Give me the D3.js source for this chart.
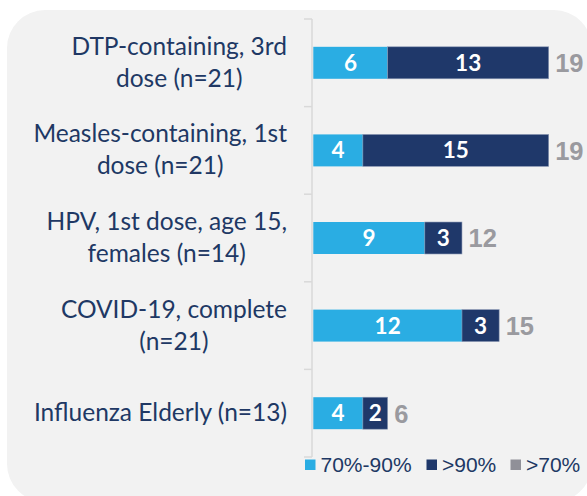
<!DOCTYPE html>
<html><head><meta charset="utf-8">
<script src="https://cdn.jsdelivr.net/npm/d3@7"></script>
<style>html,body{margin:0;padding:0;background:#fff;}svg{display:block;}</style>
</head><body>
<svg id="chart" width="587" height="496"></svg>
<script>
const categories = [
  "DTP-containing, 3rd\ndose (n=21)",
  "Measles-containing, 1st\ndose (n=21)",
  "HPV, 1st dose, age 15,\nfemales (n=14)",
  "COVID-19, complete\n(n=21)",
  "Influenza Elderly (n=13)"
];
const values70to90 = [6, 4, 9, 12, 4];
const valuesAbove90 = [13, 15, 3, 3, 2];
const totalsAbove70 = [19, 19, 12, 15, 6];
const legendLabels = ["70%-90%", ">90%", ">70%"];

const colLight = "#2aade3", colDark = "#1f386a", colGray = "#9a9a9f", colText = "#203864";
const svg = d3.select("#chart");

svg.append("rect").attr("x", 7).attr("y", 10).attr("width", 585).attr("height", 492)
  .attr("rx", 38).attr("fill", "#f2f2f2");

const y = d3.scaleBand().domain(categories).range([19, 457]).paddingInner(0.635).paddingOuter(0.3175);
const x = d3.scaleLinear().domain([0, 19]).range([313.3, 548.7]);
const bw = y.bandwidth(), step = y.step();

// axis line and ticks at band boundaries
const axisX = 312;
svg.append("line").attr("x1", axisX).attr("x2", axisX).attr("y1", y.range()[0]).attr("y2", y.range()[1])
  .attr("stroke", "#d9d9d9").attr("stroke-width", 1.5);
const tickYs = categories.map(c => y(c) - step * y.paddingInner() / 2).concat([y.range()[1]]);
svg.selectAll("line.tick").data(tickYs).enter().append("line").attr("class", "tick")
  .attr("x1", 304).attr("x2", axisX).attr("y1", d => d).attr("y2", d => d)
  .attr("stroke", "#d9d9d9").attr("stroke-width", 1.5);

// category labels
categories.forEach(c => {
  const lines = c.split("\n");
  const cy = y(c) + bw / 2;
  const g = svg.append("g");
  const texts = lines.map((ln, i) => g.append("text")
    .attr("y", cy + 8 + (i - (lines.length - 1) / 2) * 32)
    .attr("font-family", "Lato, sans-serif").attr("font-size", 24.5)
    .attr("fill", colText).attr("text-anchor", "middle").text(ln));
  const w = d3.max(texts, t => t.node().getComputedTextLength());
  texts.forEach(t => t.attr("x", 287 - w / 2));
});

// bars
const rows = categories.map((c, i) => ({ c, a: values70to90[i], b: valuesAbove90[i], t: totalsAbove70[i] }));
const bars = svg.append("g");
bars.selectAll("rect.a").data(rows).enter().append("rect")
  .attr("x", x(0)).attr("y", d => y(d.c)).attr("width", d => x(d.a) - x(0)).attr("height", bw)
  .attr("fill", colLight);
bars.selectAll("rect.b").data(rows).enter().append("rect")
  .attr("x", d => x(d.a)).attr("y", d => y(d.c)).attr("width", d => x(d.a + d.b) - x(d.a)).attr("height", bw)
  .attr("fill", colDark).attr("stroke", "#8d9ab5").attr("stroke-width", 0.6);

const lab = svg.append("g").attr("font-family", "Lato, sans-serif").attr("font-weight", "bold").attr("font-size", 22.5);
lab.selectAll("text.a").data(rows).enter().append("text")
  .attr("x", d => (x(0) + x(d.a)) / 2).attr("y", d => y(d.c) + bw / 2 + 8)
  .attr("text-anchor", "middle").attr("fill", "#fff").text(d => d.a);
lab.selectAll("text.b").data(rows).enter().append("text")
  .attr("x", d => (x(d.a) + x(d.a + d.b)) / 2).attr("y", d => y(d.c) + bw / 2 + 8)
  .attr("text-anchor", "middle").attr("fill", "#fff").text(d => d.b);
lab.selectAll("text.t").data(rows).enter().append("text")
  .attr("x", d => x(d.a + d.b) + 6.5).attr("y", d => y(d.c) + bw / 2 + 9.3)
  .attr("font-family", "'Liberation Sans', Arial, sans-serif").attr("font-size", 25.5)
  .attr("fill", colGray).text(d => d.t);

// legend
const legCols = [colLight, colDark, "#909098"];
const legX = [305, 426.5, 510.5];
const leg = svg.append("g");
legendLabels.forEach((l, i) => {
  leg.append("rect").attr("x", legX[i]).attr("y", 459.5).attr("width", 10.5).attr("height", 10.5).attr("fill", legCols[i]);
  leg.append("text").attr("x", legX[i] + 15.5).attr("y", 471.7)
    .attr("font-family", "'Liberation Sans', Arial, sans-serif").attr("font-size", 21)
    .attr("fill", colText).text(l);
});
</script>
</body></html>
